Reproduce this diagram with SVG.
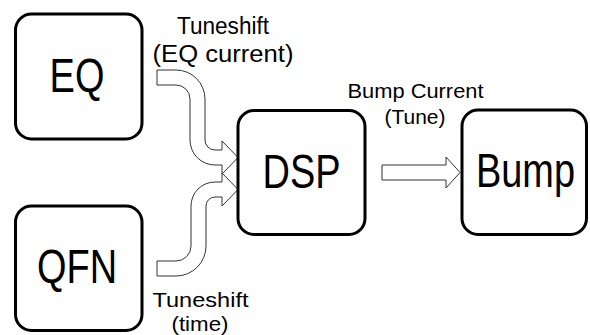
<svg xmlns="http://www.w3.org/2000/svg" width="590" height="335" viewBox="0 0 590 335">
<style>
.box{fill:#fff;stroke:#000;stroke-width:3}
.big{font-family:"Liberation Sans",Arial,sans-serif;font-size:48px;fill:#000;text-anchor:middle}
.lbl{font-family:"Liberation Sans",Arial,sans-serif;font-size:23px;fill:#000;text-anchor:middle}
.lblb{font-family:"Liberation Sans",Arial,sans-serif;font-size:21px;fill:#000;text-anchor:middle}
.lbl2{font-family:"Liberation Sans",Arial,sans-serif;font-size:21px;fill:#000;text-anchor:middle}
.arr{fill:#fff;stroke:#333;stroke-width:1;stroke-linejoin:miter}
</style>
<rect width="590" height="335" fill="#fff"/>
<g id="connectors">
<path class="arr" d="M157,70 H176 A29,29 0 0 1 205,99 V140 A10,10 0 0 0 215,150 H222 V141 L238,157.5 L222,174 V165 H215 A25,25 0 0 1 190,140 V99 A14,14 0 0 0 176,85 H157 Z"/>
<path class="arr" d="M157,261 H176 A15,15 0 0 0 191,246 V206 A24,24 0 0 1 215,182 H222 V173 L238,189.5 L222,206 V197 H215 A9,9 0 0 0 206,206 V246 A30,30 0 0 1 176,276 H157 Z"/>
<path class="arr" d="M382,165 H446 V157 L460,172.5 L446,188 V180 H382 Z"/>
<text class="lbl" x="223" y="34" textLength="92" lengthAdjust="spacingAndGlyphs">Tuneshift</text>
<text class="lbl" x="223" y="61.5" textLength="141" lengthAdjust="spacingAndGlyphs">(EQ current)</text>
<text class="lblb" x="200.5" y="307" textLength="96" lengthAdjust="spacingAndGlyphs">Tuneshift</text>
<text class="lblb" x="200" y="330.5" textLength="57" lengthAdjust="spacingAndGlyphs">(time)</text>
<text class="lbl2" x="415.5" y="97.5" textLength="136" lengthAdjust="spacingAndGlyphs">Bump Current</text>
<text class="lbl2" x="415" y="124" textLength="61" lengthAdjust="spacingAndGlyphs">(Tune)</text>
</g>
<g id="EQ">
<rect class="box" x="15.5" y="14" width="126.5" height="125" rx="16"/>
<text class="big" transform="translate(77,91.5) scale(0.79,1)">EQ</text>
</g>
<g id="QFN">
<rect class="box" x="15.5" y="206" width="126.5" height="124.5" rx="16"/>
<text class="big" transform="translate(77,283) scale(0.79,1)">QFN</text>
</g>
<g id="DSP">
<rect class="box" x="238" y="110.5" width="127" height="124" rx="16"/>
<text class="big" transform="translate(301.5,188) scale(0.79,1)">DSP</text>
</g>
<g id="Bump">
<rect class="box" x="462" y="110" width="124.5" height="124.5" rx="16"/>
<text class="big" transform="translate(525.5,187) scale(0.79,1)">Bump</text>
</g>
</svg>
